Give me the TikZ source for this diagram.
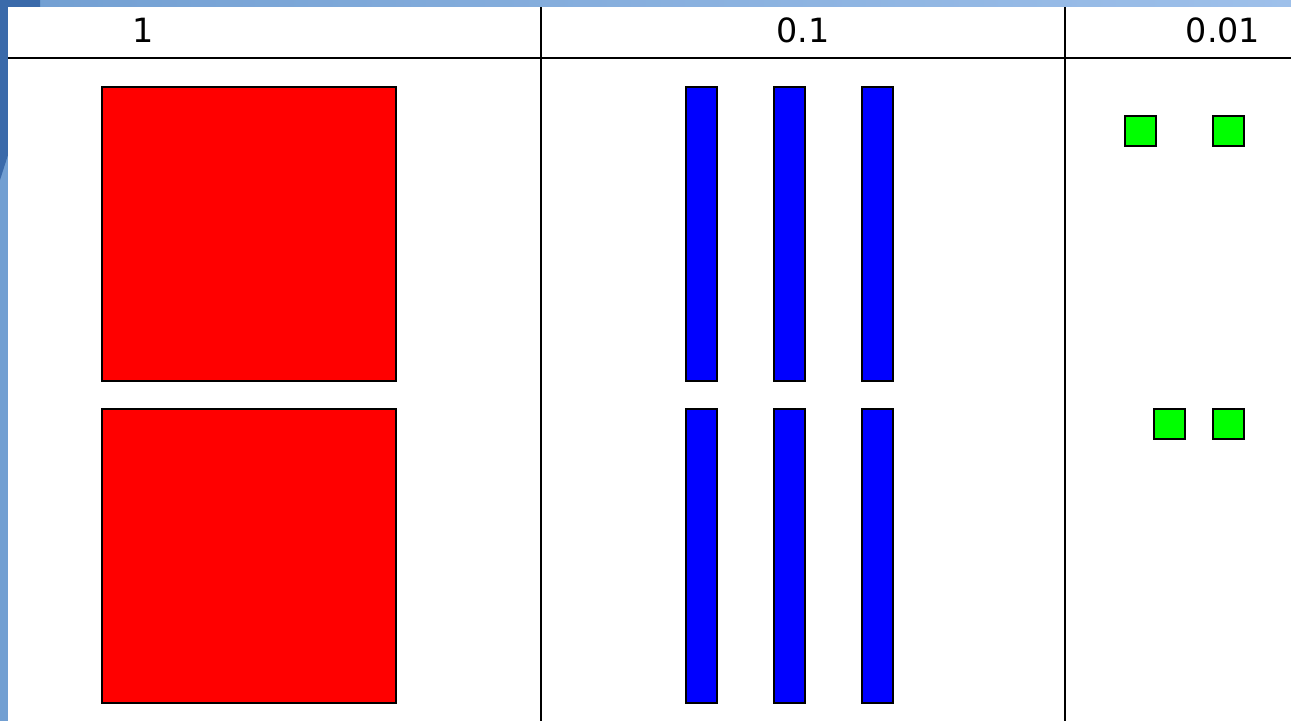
\documentclass[tikz,border=0pt]{standalone}
\usepackage{fontspec}
\setmainfont{DejaVu Sans}
\usetikzlibrary{positioning}
\definecolor{framedark}{HTML}{3A6AAA}
\definecolor{frameleft}{HTML}{729FD2}
\definecolor{frameright}{HTML}{9EC0EA}
\definecolor{unitred}{HTML}{FF0000}
\definecolor{tenthblue}{HTML}{0000FF}
\definecolor{hundgreen}{HTML}{00FF00}
\tikzset{
  grid/.style={line width=1.2pt, color=black},
  block/.style={draw=black, line width=1.1pt},
  unit/.style={block, fill=unitred},
  tenth/.style={block, fill=tenthblue},
  hundredth/.style={block, fill=hundgreen},
  colhead/.style={font=\fontsize{19}{19}\selectfont, text=black, inner sep=0pt},
}
\begin{document}
\begin{tikzpicture}[x=0.02cm,y=-0.02cm]
  \useasboundingbox (0,0) rectangle (1291,721);
  % slide frame
  \shade[left color=frameleft, right color=frameright] (0,0) rectangle (1291,7);
  \fill[frameleft] (0,0) rectangle (8,721);
  \fill[framedark] (0,0) -- (40,0) -- (40,7) -- (8,7) -- (8,155) -- (0,180) -- cycle;
  \fill[white] (8,7) rectangle (1291,721);
  % table lines
  \coordinate (hl) at (8,58);
  \coordinate (hr) at (1291,58);
  \draw[grid] (hl) -- (hr);
  \foreach \vx/\nm in {541/a, 1065/b} {
    \coordinate (top\nm) at (\vx,7);
    \coordinate (bot\nm) at (\vx,721);
    \draw[grid] (top\nm) -- (bot\nm);
  }
  % headers
  \node[colhead] (hone) at (143,30) {1};
  \node[colhead] (htenth) at (803,30) {0.1};
  \node[colhead] (hhund) at (1223,30) {0.01};
  % ones
  \foreach \y in {87, 409}
    \draw[unit] (102,\y) rectangle ++(294,294);
  % tenths
  \foreach \y in {87, 409}
    \foreach \x in {686, 774, 862}
      \draw[tenth] (\x,\y) rectangle ++(31,294);
  % hundredths
  \foreach \x/\y in {1125/116, 1213/116, 1154/409, 1213/409}
    \draw[hundredth] (\x,\y) rectangle ++(31,30);
\end{tikzpicture}
\end{document}
